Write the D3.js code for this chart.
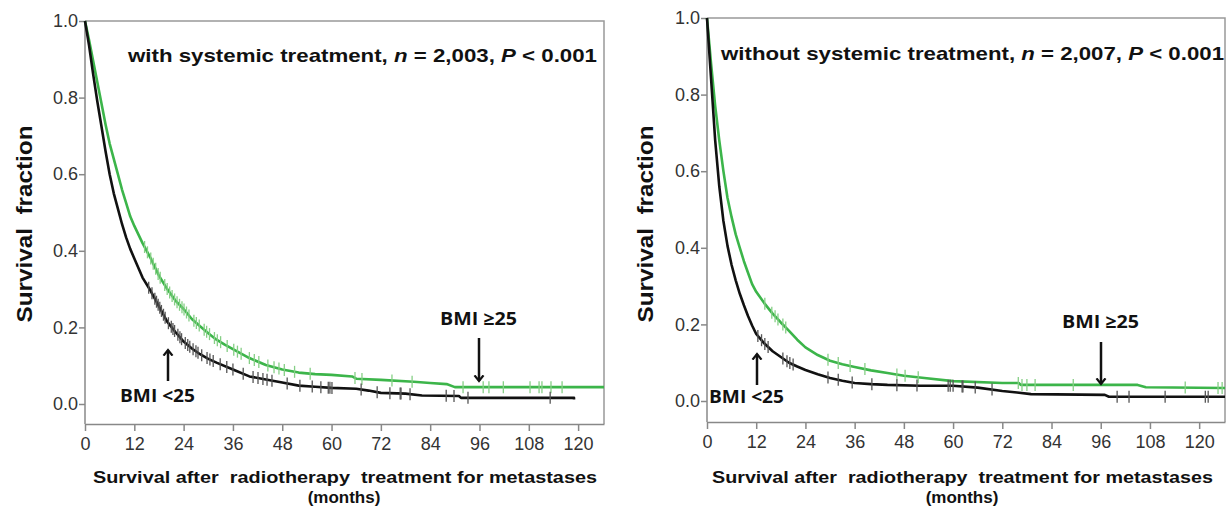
<!DOCTYPE html>
<html>
<head>
<meta charset="utf-8">
<title>Survival after radiotherapy by BMI</title>
<script src="https://d3js.org/d3.v7.min.js"></script>
<style>
    body { margin: 0; background: #fff; }
    svg { display: block; }
    .tick text { font: 18px "Liberation Sans", Arial, sans-serif; fill: #333; }
    .axis path, .axis line { stroke: #888; stroke-width: 1.5; }
    .lab { font-family: "Liberation Sans", Arial, sans-serif; font-weight: bold; fill: #111; }
    .bmi { font-family: "Open Sans", Lato, sans-serif; font-weight: bold; font-size: 18px; fill: #111; }
</style>
</head>
<body>
<svg id="chart" width="1227" height="508"></svg>
<script>
'use strict';

// survival curves, [month, fraction]
const withLow = [[0,1],[1,0.935],[2,0.86],[3,0.79],[4,0.725],[5,0.66],[6,0.6],[7,0.55],[8,0.51],[9,0.47],[10,0.435],[11,0.405],[12,0.38],[14,0.33],[16,0.295],[18,0.255],[20,0.215],[22,0.188],[24,0.163],[26,0.145],[28,0.13],[30,0.118],[32,0.108],[36,0.09],[40,0.072],[44,0.064],[48,0.056],[52,0.048],[56,0.045],[60,0.042],[66,0.04],[69,0.035],[72,0.029],[78,0.027],[82,0.022],[91,0.021],[91.5,0.016],[119,0.016],[119,0.012]];
const withHigh = [[0,1],[1,0.95],[2,0.895],[3,0.84],[4,0.785],[5,0.73],[6,0.68],[7,0.64],[8,0.6],[9,0.56],[10,0.525],[11,0.49],[12,0.465],[14,0.42],[16,0.38],[18,0.335],[20,0.3],[22,0.27],[24,0.248],[26,0.222],[28,0.203],[30,0.185],[32,0.168],[34,0.155],[36,0.143],[40,0.12],[44,0.102],[48,0.09],[52,0.082],[56,0.078],[60,0.076],[65,0.072],[66,0.066],[72,0.063],[80,0.058],[84,0.055],[88,0.052],[90,0.044],[126.3,0.044]];
const withoutLow = [[0,1],[1,0.84],[2,0.68],[3,0.56],[4,0.47],[5,0.405],[6,0.355],[7,0.315],[8,0.28],[9,0.25],[10,0.222],[11,0.197],[12,0.175],[14,0.15],[16,0.13],[18,0.115],[20,0.1],[22,0.09],[24,0.081],[27,0.07],[30,0.06],[33,0.053],[36,0.047],[40,0.044],[44,0.042],[52,0.04],[60,0.04],[66,0.035],[72,0.026],[75.6,0.022],[79,0.018],[97,0.016],[98,0.011],[126.3,0.011]];
const withoutHigh = [[0,1],[1,0.88],[2,0.77],[3,0.68],[4,0.6],[5,0.53],[6,0.48],[7,0.435],[8,0.4],[9,0.365],[10,0.335],[11,0.305],[12,0.285],[14,0.255],[16,0.228],[18,0.205],[20,0.183],[22,0.16],[24,0.14],[27,0.12],[30,0.105],[33,0.096],[36,0.089],[40,0.08],[44,0.073],[48,0.066],[53,0.06],[60,0.052],[72,0.047],[76,0.047],[76.5,0.042],[105,0.042],[107,0.036],[126.3,0.034]];

// censored observations (months)
const withLowCensor = [15.5,16.3,17,17.4,17.8,18.2,18.6,19.1,19.5,20.3,21,21.4,21.8,22.6,23.1,23.5,24.4,25,25.5,26.3,27,27.5,28.4,29.7,30.4,31.2,32.9,34.5,36,38.5,40.9,42.1,43.3,44.3,45.5,49.2,52.3,55.3,57.4,59.2,59.6,60.1,67.2,71.1,74.2,76.7,76.9,79.1,87.9,89.8,93.2,113.2];
const withHighCensor = [14.5,15.2,16,16.6,17.2,17.8,18.3,19.4,20,20.6,21.2,21.8,22.4,23,23.6,24.1,24.7,25.3,26.5,27.1,27.8,29,29.6,30.3,31.5,32.2,33,34.6,36.2,37.1,38,40,41.2,42.3,44.5,46,47.2,48.5,51,54.8,65.7,67.4,74.7,79.6,92,96.9,98.3,101.8,108.3,110.5,111.2,113.4,116.1];
const withoutLowCensor = [12.4,13.3,14.1,14.9,18.5,19.5,20.2,21,29.5,32,35.4,40.2,46.3,51.2,58.8,59.3,60,62.2,62.4,65.4,69.5,100,102.9,111.7,121.5,122.2];
const withoutHighCensor = [14.1,15.8,16.6,17.3,18.5,19.2,29.5,32,34.9,38.5,46.3,48.3,51.5,75.9,76.8,78,80,89.3,116.6,124.6,125.6];

const monthTicks = d3.range(0, 121, 12);
const fracTicks = [0, 0.2, 0.4, 0.6, 0.8, 1.0];

const panels = [
    {left: 85, right: 604, top: 21, zero: 404, bottom: 424,
     title: ["with systemic treatment, ", "n", " = 2,003, ", "P", " < 0.001"], titleX: 128, titleY: 62, titleW: 469,
     low: withLow, high: withHigh, lowC: withLowCensor, highC: withHighCensor,
     lowLab: [120, 402], lowArrow: [168, 381, 350], highLab: [440, 325], highArrow: [479, 338, 381],
     xTitle: [93, 504], monthsX: 344, yTitleX: 32},
    {left: 707, right: 1225, top: 18, zero: 401, bottom: 422,
     title: ["without systemic treatment, ", "n", " = 2,007, ", "P", " < 0.001"], titleX: 721, titleY: 60, titleW: 503,
     low: withoutLow, high: withoutHigh, lowC: withoutLowCensor, highC: withoutHighCensor,
     lowLab: [709, 403], lowArrow: [757, 385, 354], highLab: [1062, 328], highArrow: [1101, 342, 384],
     xTitle: [712, 501], monthsX: 962, yTitleX: 653}
];

const svg = d3.select("#chart");

svg.append("defs").append("marker")
    .attr("id", "head")
    .attr("viewBox", "0 0 10 10")
    .attr("refX", 5).attr("refY", 5)
    .attr("markerWidth", 4.5).attr("markerHeight", 4.5)
    .attr("orient", "auto")
    .append("path")
    .attr("d", "M0,1 L5,5 L0,9")
    .attr("fill", "none")
    .attr("stroke", "#111")
    .attr("stroke-width", 2);

function valueAt(curve, t) {
    for (let i = curve.length - 1; i >= 0; i--) {
        if (curve[i][0] <= t) {
            const a = curve[i], b = curve[i + 1];
            if (!b || b[0] === a[0]) return a[1];
            return a[1] + (b[1] - a[1]) * (t - a[0]) / (b[0] - a[0]);
        }
    }
    return 1;
}

panels.forEach(p => {
    const x = d3.scaleLinear().domain([0, 126.3]).range([p.left, p.right]);
    const y = d3.scaleLinear().domain([0, 1]).range([p.zero, p.top]);
    const g = svg.append("g");

    // frame top / right
    g.append("path")
        .attr("d", `M${p.left},${p.top}H${p.right}V${p.bottom}`)
        .attr("fill", "none").attr("stroke", "#999").attr("stroke-width", 1.5);

    const yAxis = g.append("g").attr("class", "axis")
        .attr("transform", `translate(${p.left},0)`)
        .call(d3.axisLeft(y).tickValues(fracTicks).tickFormat(d3.format(".1f")).tickSize(6).tickSizeOuter(0));
    yAxis.select(".domain").attr("d", `M0,${p.top}V${p.bottom}`);
    yAxis.selectAll(".tick text").attr("x", -7);

    const xAxis = g.append("g").attr("class", "axis")
        .attr("transform", `translate(0,${p.bottom})`)
        .call(d3.axisBottom(x).tickValues(monthTicks).tickSize(7).tickSizeOuter(0));
    xAxis.selectAll(".tick text").attr("y", 13);

    const line = d3.line().x(d => x(d[0])).y(d => y(d[1]));

    const series = [
        {curve: p.high, cens: p.highC, color: "#3cb54a", tick: "#86cf86"},
        {curve: p.low, cens: p.lowC, color: "#111", tick: "#555"}
    ];
    series.forEach(s => {
        g.append("path").datum(s.curve)
            .attr("d", line)
            .attr("fill", "none")
            .attr("stroke", s.color)
            .attr("stroke-width", 2.6)
            .attr("stroke-linejoin", "round");
        g.append("g").selectAll("line")
            .data(s.cens)
            .join("line")
            .attr("x1", d => x(d)).attr("x2", d => x(d))
            .attr("y1", d => y(valueAt(s.curve, d)) - 6)
            .attr("y2", d => y(valueAt(s.curve, d)) + 6)
            .attr("stroke", s.tick)
            .attr("stroke-width", 1.3);
    });

    // title inside plot
    const t = g.append("text").attr("class", "lab")
        .attr("x", p.titleX).attr("y", p.titleY)
        .style("font-size", "19px")
        .attr("textLength", p.titleW)
        .attr("lengthAdjust", "spacingAndGlyphs");
    p.title.forEach((s, i) => {
        t.append("tspan").text(s).style("font-style", i === 1 || i === 3 ? "italic" : null);
    });

    // axis titles
    g.append("text").attr("class", "lab")
        .attr("x", p.xTitle[0]).attr("y", 483)
        .style("font-size", "17px")
        .attr("xml:space", "preserve")
        .attr("textLength", p.xTitle[1])
        .attr("lengthAdjust", "spacingAndGlyphs")
        .text("Survival after  radiotherapy  treatment for metastases");
    g.append("text").attr("class", "lab")
        .attr("x", p.monthsX).attr("y", 503)
        .attr("text-anchor", "middle")
        .style("font-size", "17px")
        .text("(months)");
    g.append("text").attr("class", "lab")
        .attr("transform", `translate(${p.yTitleX},224) rotate(-90)`)
        .attr("text-anchor", "middle")
        .style("font-size", "22px")
        .attr("xml:space", "preserve")
        .attr("textLength", 197)
        .attr("lengthAdjust", "spacingAndGlyphs")
        .text("Survival  fraction");

    // BMI annotations with arrows
    g.append("text").attr("class", "bmi")
        .attr("x", p.lowLab[0]).attr("y", p.lowLab[1])
        .attr("textLength", 75)
        .attr("lengthAdjust", "spacingAndGlyphs")
        .text("BMI <25");
    g.append("line")
        .attr("x1", p.lowArrow[0]).attr("x2", p.lowArrow[0])
        .attr("y1", p.lowArrow[1]).attr("y2", p.lowArrow[2])
        .attr("stroke", "#111").attr("stroke-width", 2.5)
        .attr("marker-end", "url(#head)");
    g.append("text").attr("class", "bmi")
        .attr("x", p.highLab[0]).attr("y", p.highLab[1])
        .attr("textLength", 77)
        .attr("lengthAdjust", "spacingAndGlyphs")
        .text("BMI \u226525");
    g.append("line")
        .attr("x1", p.highArrow[0]).attr("x2", p.highArrow[0])
        .attr("y1", p.highArrow[1]).attr("y2", p.highArrow[2])
        .attr("stroke", "#111").attr("stroke-width", 2.5)
        .attr("marker-end", "url(#head)");
});
</script>
</body>
</html>
